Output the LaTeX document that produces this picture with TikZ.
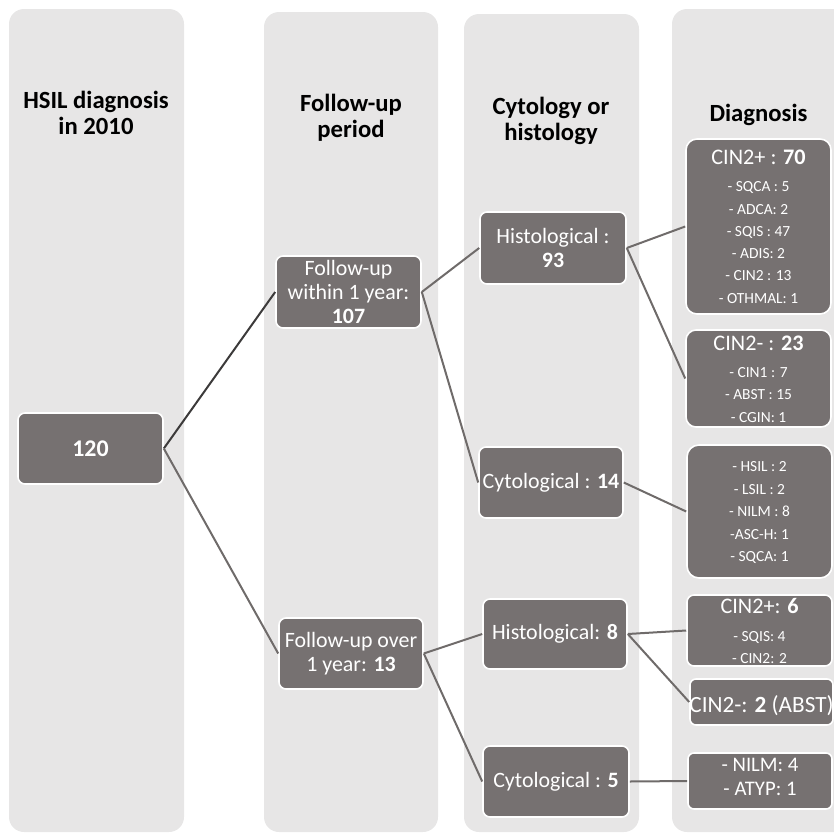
\documentclass[tikz,border=0pt]{standalone}
\usepackage{fontspec}
\setmainfont{Carlito}
\definecolor{colbg}{HTML}{E7E6E6}
\definecolor{boxbg}{HTML}{767171}
\definecolor{lnk}{HTML}{6F6B6A}
\definecolor{lnkdark}{HTML}{3C3A3A}
\begin{document}
\begin{tikzpicture}[x=1bp,y=-1bp,
  column/.style={fill=colbg, rounded corners=15bp},
  box/.style={draw=white, line width=1.6bp, fill=boxbg, text=white, rounded corners=7bp,
    inner sep=0pt, align=center, font=\fontsize{22}{24.5}\selectfont},
  hdr/.style={align=center, inner sep=0pt, font=\fontsize{24.8}{26}\selectfont\bfseries},
  ttl/.style={text=white, inner sep=0pt, anchor=base, font=\fontsize{22.3}{24}\selectfont},
  itm/.style={text=white, inner sep=0pt, anchor=base, font=\fontsize{15.5}{17}\selectfont},
  link/.style={draw=lnk, line width=2bp}]
\useasboundingbox (0,0) rectangle (834,835);
% columns
\fill[column] (9,9) rectangle (184,832);
\fill[column] (264,12) rectangle (438,832);
\fill[column] (464,14) rectangle (639,832);
\fill[column] (672,9) rectangle (850,832);
% headers
\node[hdr] (h1) at (96,113) {HSIL diagnosis\\in 2010};
\node[hdr] (h2) at (351,118) {Follow-up\\period};
\node[hdr] (h3) at (551,120.5) {Cytology or\\histology};
\node[hdr, anchor=base] (h4) at (758.5,121) {Diagnosis};
% main boxes
\node[box, minimum width=145bp, minimum height=71bp, font=\fontsize{24}{26}\selectfont\bfseries] (n120) at (90.5,448.5) {120};
\node[box, minimum width=145bp, minimum height=72bp] (within) at (348.5,292) {Follow-up\\within 1 year:\\\textbf{107}};
\node[box, minimum width=144bp, minimum height=71bp] (over) at (351,653.5) {Follow-up over\\1 year: \textbf{13}};
\node[box, minimum width=146bp, minimum height=72bp] (hist93) at (553,248) {Histological :\\\textbf{93}};
\node[box, minimum width=144bp, minimum height=71bp] (cyt14) at (551,482.5) {Cytological : \textbf{14}};
\node[box, minimum width=144bp, minimum height=70bp] (hist8) at (555,634) {Histological: \textbf{8}};
\node[box, minimum width=146bp, minimum height=71bp] (cyt5) at (556,781.5) {Cytological : \textbf{5}};
% diagnosis boxes
\node[box, rounded corners=11bp, minimum width=145bp, minimum height=175bp] (cinp70) at (758.5,226.5) {};
\node[box, rounded corners=10bp, minimum width=145bp, minimum height=97bp] (cinm23) at (758.5,378.5) {};
\node[box, rounded corners=12bp, minimum width=145bp, minimum height=133bp] (cytres) at (759.5,511.5) {};
\node[box, rounded corners=7bp, minimum width=145bp, minimum height=71bp] (cinp6) at (759.5,630.5) {};
\node[box, rounded corners=6bp, minimum width=143bp, minimum height=46bp] (cinm2) at (761.5,702) {};
\node[box, rounded corners=6bp, minimum width=144bp, minimum height=56bp] (nilm) at (760,781) {};
% texts in diagnosis boxes
\node[ttl] (cinp70t) at (758.5,164) {CIN2+ : \textbf{70}};
\foreach \t/\y [count=\i] in {{- SQCA : 5}/191.7, {- ADCA: 2}/214, {- SQIS : 47}/236.3,
    {- ADIS: 2}/258.6, {- CIN2 : 13}/280.9, {- OTHMAL: 1}/303.2}
  \node[itm] (cinp70i\i) at (758.5,\y) {\t};
\node[ttl] (cinm23t) at (758.5,350) {CIN2- : \textbf{23}};
\foreach \t/\y [count=\i] in {{- CIN1 : 7}/377, {- ABST : 15}/399.5, {- CGIN: 1}/422}
  \node[itm] (cinm23i\i) at (758.5,\y) {\t};
\foreach \t/\y [count=\i] in {{- HSIL : 2}/471.7, {- LSIL : 2}/494, {- NILM : 8}/516.7,
    {-ASC-H: 1}/539.3, {- SQCA: 1}/561.7}
  \node[itm] (cytresi\i) at (759.5,\y) {\t};
\node[ttl] (cinp6t) at (759.5,613) {CIN2+: \textbf{6}};
\foreach \t/\y [count=\i] in {{- SQIS: 4}/641, {- CIN2: 2}/663}
  \node[itm] (cinp6i\i) at (759.5,\y) {\t};
\node[ttl, font=\fontsize{23.3}{25}\selectfont] (cinm2t) at (761.5,712) {CIN2-: \textbf{2} (ABST)};
\node[ttl, font=\fontsize{20.8}{22}\selectfont] (nilm1) at (760,771.7) {- NILM: 4};
\node[ttl, font=\fontsize{20.8}{22}\selectfont] (nilm2) at (760,795) {- ATYP: 1};
% connectors
\draw[link, draw=lnkdark] (n120.east) -- (within.west);
\draw[link] (n120.east) -- (over.west);
\draw[link] (within.east) -- (hist93.west);
\draw[link] (within.east) -- (cyt14.west);
\draw[link] (hist93.east) -- (cinp70.west);
\draw[link] (hist93.east) -- (cinm23.west);
\draw[link] (cyt14.east) -- (cytres.west);
\draw[link] (over.east) -- (hist8.west);
\draw[link] (over.east) -- (cyt5.west);
\draw[link] (hist8.east) -- (cinp6.west);
\draw[link] (hist8.east) -- (cinm2.west);
\draw[link] (cyt5.east) -- (nilm.west);
\end{tikzpicture}
\end{document}
